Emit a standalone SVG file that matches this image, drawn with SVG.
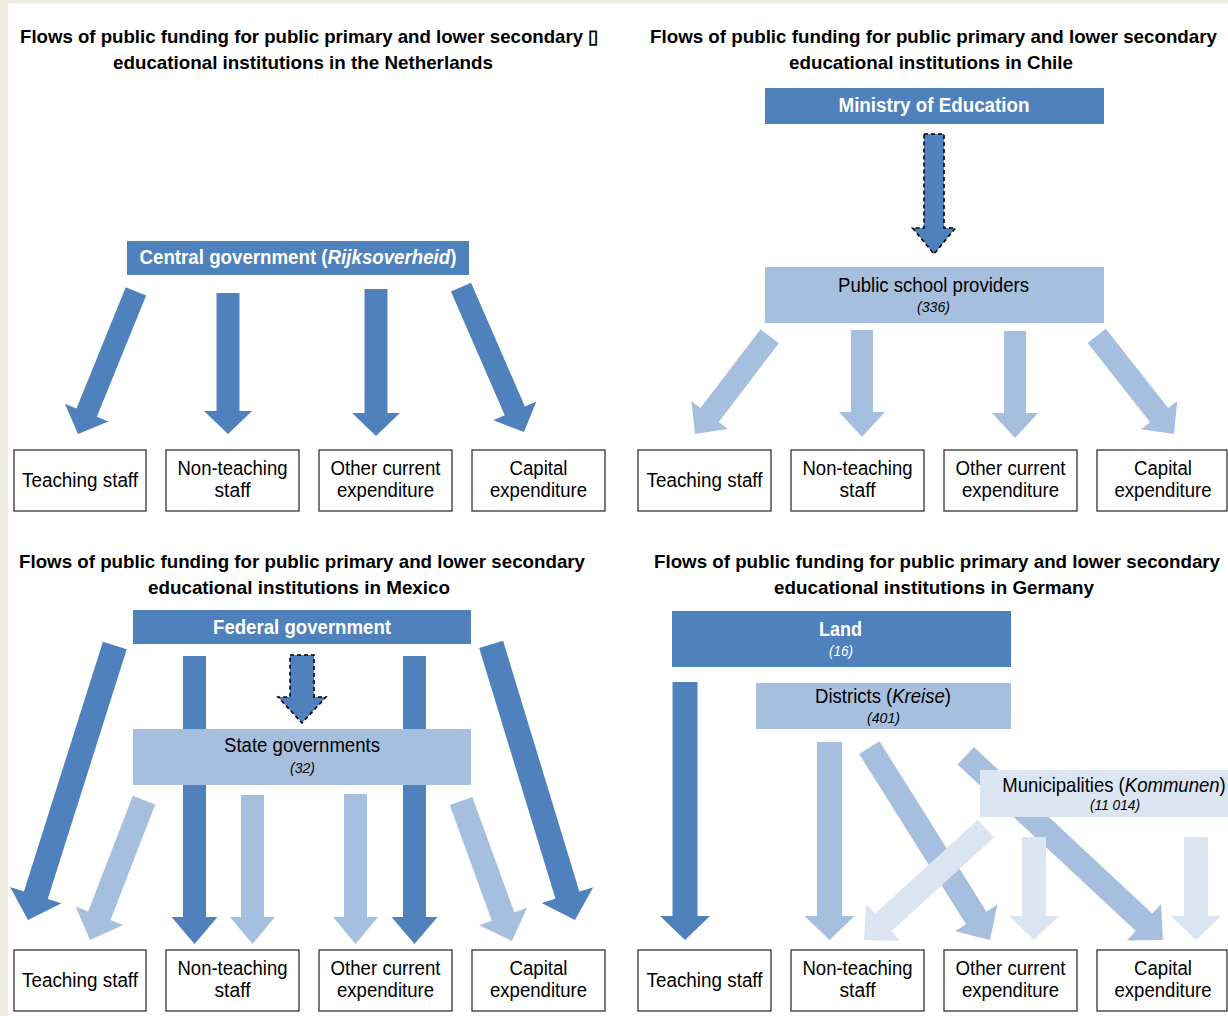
<svg xmlns="http://www.w3.org/2000/svg" width="1228" height="1016" viewBox="0 0 1228 1016">
<style>
text{font-family:"Liberation Sans Narrow","Arial Narrow","Liberation Sans",Arial,sans-serif;fill:#000;text-anchor:middle}
.ti{font-size:19px;font-weight:bold}
.hd{font-size:20px;font-weight:bold;fill:#fff}
.lb{font-size:20px}
.st{text-anchor:start}
.nm{font-size:14px;font-style:italic}
.nmw{font-size:14px;font-style:italic;fill:#fff}
.bx{fill:#fff;stroke:#222;stroke-width:1.2}
.dk{fill:#4F81BD}
.md{fill:#A7BFDE}
.lt{fill:#DBE5F1}
.dash{stroke:#000;stroke-width:1.6;stroke-dasharray:4 3}
</style>
<rect x="0" y="0" width="1228" height="1016" fill="#EEECE1"/>
<rect x="8" y="3" width="1220" height="1013" fill="#fff"/>

<g id="titles">
<text class="ti st" x="20" y="43" textLength="578" lengthAdjust="spacingAndGlyphs">Flows of public funding for public primary and lower secondary ▯</text>
<text class="ti" x="303" y="69" textLength="380" lengthAdjust="spacingAndGlyphs">educational institutions in the Netherlands</text>
<text class="ti" x="933.5" y="43" textLength="567" lengthAdjust="spacingAndGlyphs">Flows of public funding for public primary and lower secondary</text>
<text class="ti" x="931" y="69" textLength="284" lengthAdjust="spacingAndGlyphs">educational institutions in Chile</text>
<text class="ti" x="302" y="568" textLength="566" lengthAdjust="spacingAndGlyphs">Flows of public funding for public primary and lower secondary</text>
<text class="ti" x="299" y="594" textLength="302" lengthAdjust="spacingAndGlyphs">educational institutions in Mexico</text>
<text class="ti" x="937" y="568" textLength="566" lengthAdjust="spacingAndGlyphs">Flows of public funding for public primary and lower secondary</text>
<text class="ti" x="934" y="594" textLength="320" lengthAdjust="spacingAndGlyphs">educational institutions in Germany</text>
</g>

<g id="connectors">
<!-- Netherlands -->
<path class="dk" transform="translate(78,434) rotate(22.1)" d="M-11,-154L11,-154L11,-23L23.5,-23L0,0L-23.5,-23L-11,-23Z"/>
<path class="dk" transform="translate(228,434)" d="M-11.5,-141L11.5,-141L11.5,-23L24,-23L0,0L-24,-23L-11.5,-23Z"/>
<path class="dk" transform="translate(376,436)" d="M-11.5,-147L11.5,-147L11.5,-23L24,-23L0,0L-24,-23L-11.5,-23Z"/>
<path class="dk" transform="translate(524,432) rotate(-23.5)" d="M-11,-158L11,-158L11,-23L23.5,-23L0,0L-23.5,-23L-11,-23Z"/>
<!-- Chile -->
<path class="dk dash" transform="translate(934,254)" d="M-10,-120L10,-120L10,-26L21.5,-26L0,0L-21.5,-26L-10,-26Z"/>
<path class="md" transform="translate(695,434) rotate(37.4)" d="M-11.5,-123L11.5,-123L11.5,-24L23,-24L0,0L-23,-24L-11.5,-24Z"/>
<path class="md" transform="translate(862,437)" d="M-11,-107L11,-107L11,-25L23,-25L0,0L-23,-25L-11,-25Z"/>
<path class="md" transform="translate(1015,438)" d="M-11,-107L11,-107L11,-25L23,-25L0,0L-23,-25L-11,-25Z"/>
<path class="md" transform="translate(1174,434) rotate(-38.2)" d="M-11.5,-125L11.5,-125L11.5,-24L23,-24L0,0L-23,-24L-11.5,-24Z"/>
<!-- Mexico -->
<path class="dk" transform="translate(28,920) rotate(17.55)" d="M-12.5,-288L12.5,-288L12.5,-26L27,-26L0,0L-27,-26L-12.5,-26Z"/>
<path class="dk" transform="translate(575,920) rotate(-16.93)" d="M-12.5,-288L12.5,-288L12.5,-26L27,-26L0,0L-27,-26L-12.5,-26Z"/>
<path class="dk" transform="translate(194.5,944)" d="M-11.5,-288L11.5,-288L11.5,-27L23,-27L0,0L-23,-27L-11.5,-27Z"/>
<path class="dk" transform="translate(414.5,944)" d="M-11.5,-288L11.5,-288L11.5,-27L23,-27L0,0L-23,-27L-11.5,-27Z"/>
<path class="dk dash" transform="translate(302,723)" d="M-12,-68L12,-68L12,-26L24,-26L0,0L-24,-26L-12,-26Z"/>
<path class="md" transform="translate(90,940) rotate(21.1)" d="M-12,-150L12,-150L12,-26L25.5,-26L0,0L-25.5,-26L-12,-26Z"/>
<path class="md" transform="translate(252.5,944)" d="M-11.5,-149L11.5,-149L11.5,-27L22.5,-27L0,0L-22.5,-27L-11.5,-27Z"/>
<path class="md" transform="translate(355.5,944)" d="M-11.5,-150L11.5,-150L11.5,-27L22.5,-27L0,0L-22.5,-27L-11.5,-27Z"/>
<path class="md" transform="translate(512,941) rotate(-20)" d="M-12,-149L12,-149L12,-26L25.5,-26L0,0L-25.5,-26L-12,-26Z"/>
<!-- Germany -->
<path class="dk" transform="translate(685,940)" d="M-12.5,-258L12.5,-258L12.5,-24L25,-24L0,0L-25,-24L-12.5,-24Z"/>
<path class="md" transform="translate(829.5,940)" d="M-12.5,-198L12.5,-198L12.5,-24L25,-24L0,0L-25,-24L-12.5,-24Z"/>
<path class="md" transform="translate(990,940) rotate(-32.1)" d="M-12,-227L12,-227L12,-26L25,-26L0,0L-25,-26L-12,-26Z"/>
<path class="md" transform="translate(1163,940) rotate(-46.96)" d="M-12,-270L12,-270L12,-26L25,-26L0,0L-25,-26L-12,-26Z"/>
<path class="lt" transform="translate(864,940) rotate(47.6)" d="M-12,-165L12,-165L12,-26L25,-26L0,0L-25,-26L-12,-26Z"/>
<path class="lt" transform="translate(1034,940)" d="M-12,-103L12,-103L12,-24L25,-24L0,0L-25,-24L-12,-24Z"/>
<path class="lt" transform="translate(1196,940)" d="M-12,-103L12,-103L12,-24L25,-24L0,0L-25,-24L-12,-24Z"/>
</g>

<!-- Netherlands nodes -->
<g id="nl-central">
<rect class="dk" x="127" y="241" width="342" height="34"/>
<text class="hd" transform="translate(298,264) scale(0.935,1)" x="0" y="0">Central government (<tspan font-style="italic">Rijksoverheid</tspan>)</text>
</g>
<g id="nl-teaching"><rect class="bx" x="14" y="450" width="132" height="61"/><text class="lb" x="80" y="487" textLength="116" lengthAdjust="spacingAndGlyphs">Teaching staff</text></g>
<g id="nl-nonteaching"><rect class="bx" x="166" y="450" width="133" height="61"/><text class="lb" x="232.5" y="475" textLength="110" lengthAdjust="spacingAndGlyphs">Non-teaching</text><text class="lb" x="232.5" y="497" textLength="36" lengthAdjust="spacingAndGlyphs">staff</text></g>
<g id="nl-other"><rect class="bx" x="319" y="450" width="133" height="61"/><text class="lb" x="385.5" y="475" textLength="110" lengthAdjust="spacingAndGlyphs">Other current</text><text class="lb" x="385.5" y="497" textLength="97" lengthAdjust="spacingAndGlyphs">expenditure</text></g>
<g id="nl-capital"><rect class="bx" x="472" y="450" width="133" height="61"/><text class="lb" x="538.5" y="475" textLength="58" lengthAdjust="spacingAndGlyphs">Capital</text><text class="lb" x="538.5" y="497" textLength="97" lengthAdjust="spacingAndGlyphs">expenditure</text></g>

<!-- Chile nodes -->
<g id="cl-ministry">
<rect class="dk" x="765" y="88" width="339" height="36"/>
<text class="hd" x="934" y="112" textLength="191" lengthAdjust="spacingAndGlyphs">Ministry of Education</text>
</g>
<g id="cl-providers">
<rect class="md" x="765" y="267" width="339" height="56"/>
<text class="lb" x="933.5" y="292" textLength="191" lengthAdjust="spacingAndGlyphs">Public school providers</text>
<text class="nm" x="933.5" y="312" textLength="33" lengthAdjust="spacingAndGlyphs">(336)</text>
</g>
<g id="cl-teaching"><rect class="bx" x="638" y="450" width="133" height="61"/><text class="lb" x="704.5" y="487" textLength="116" lengthAdjust="spacingAndGlyphs">Teaching staff</text></g>
<g id="cl-nonteaching"><rect class="bx" x="791" y="450" width="133" height="61"/><text class="lb" x="857.5" y="475" textLength="110" lengthAdjust="spacingAndGlyphs">Non-teaching</text><text class="lb" x="857.5" y="497" textLength="36" lengthAdjust="spacingAndGlyphs">staff</text></g>
<g id="cl-other"><rect class="bx" x="944" y="450" width="133" height="61"/><text class="lb" x="1010.5" y="475" textLength="110" lengthAdjust="spacingAndGlyphs">Other current</text><text class="lb" x="1010.5" y="497" textLength="97" lengthAdjust="spacingAndGlyphs">expenditure</text></g>
<g id="cl-capital"><rect class="bx" x="1097" y="450" width="130" height="61"/><text class="lb" x="1163" y="475" textLength="58" lengthAdjust="spacingAndGlyphs">Capital</text><text class="lb" x="1163" y="497" textLength="97" lengthAdjust="spacingAndGlyphs">expenditure</text></g>

<!-- Mexico nodes -->
<g id="mx-federal">
<rect class="dk" x="133" y="610" width="338" height="34"/>
<text class="hd" x="302" y="634" textLength="178" lengthAdjust="spacingAndGlyphs">Federal government</text>
</g>
<g id="mx-states">
<rect class="md" x="133" y="729" width="338" height="56"/>
<text class="lb" x="302" y="752" textLength="156" lengthAdjust="spacingAndGlyphs">State governments</text>
<text class="nm" x="302.5" y="773" textLength="25" lengthAdjust="spacingAndGlyphs">(32)</text>
</g>
<g id="mx-teaching"><rect class="bx" x="14" y="950" width="132" height="61"/><text class="lb" x="80" y="987" textLength="116" lengthAdjust="spacingAndGlyphs">Teaching staff</text></g>
<g id="mx-nonteaching"><rect class="bx" x="166" y="950" width="133" height="61"/><text class="lb" x="232.5" y="975" textLength="110" lengthAdjust="spacingAndGlyphs">Non-teaching</text><text class="lb" x="232.5" y="997" textLength="36" lengthAdjust="spacingAndGlyphs">staff</text></g>
<g id="mx-other"><rect class="bx" x="319" y="950" width="133" height="61"/><text class="lb" x="385.5" y="975" textLength="110" lengthAdjust="spacingAndGlyphs">Other current</text><text class="lb" x="385.5" y="997" textLength="97" lengthAdjust="spacingAndGlyphs">expenditure</text></g>
<g id="mx-capital"><rect class="bx" x="472" y="950" width="133" height="61"/><text class="lb" x="538.5" y="975" textLength="58" lengthAdjust="spacingAndGlyphs">Capital</text><text class="lb" x="538.5" y="997" textLength="97" lengthAdjust="spacingAndGlyphs">expenditure</text></g>

<!-- Germany nodes -->
<g id="de-land">
<rect class="dk" x="672" y="611" width="339" height="56"/>
<text class="hd" x="840.5" y="636" textLength="43" lengthAdjust="spacingAndGlyphs">Land</text>
<text class="nmw" x="841" y="656" textLength="24" lengthAdjust="spacingAndGlyphs">(16)</text>
</g>
<g id="de-districts">
<rect class="md" x="756" y="683" width="255" height="46"/>
<text class="lb" transform="translate(883,703) scale(0.927,1)" x="0" y="0">Districts (<tspan font-style="italic">Kreise</tspan>)</text>
<text class="nm" x="883.5" y="723" textLength="33" lengthAdjust="spacingAndGlyphs">(401)</text>
</g>
<g id="de-municipalities">
<rect class="lt" x="980" y="770" width="248" height="47"/>
<text class="lb" transform="translate(1114,792) scale(0.9275,1)" x="0" y="0">Municipalities (<tspan font-style="italic">Kommunen</tspan>)</text>
<text class="nm" x="1115" y="810" textLength="50" lengthAdjust="spacingAndGlyphs">(11 014)</text>
</g>
<g id="de-teaching"><rect class="bx" x="638" y="950" width="133" height="61"/><text class="lb" x="704.5" y="987" textLength="116" lengthAdjust="spacingAndGlyphs">Teaching staff</text></g>
<g id="de-nonteaching"><rect class="bx" x="791" y="950" width="133" height="61"/><text class="lb" x="857.5" y="975" textLength="110" lengthAdjust="spacingAndGlyphs">Non-teaching</text><text class="lb" x="857.5" y="997" textLength="36" lengthAdjust="spacingAndGlyphs">staff</text></g>
<g id="de-other"><rect class="bx" x="944" y="950" width="133" height="61"/><text class="lb" x="1010.5" y="975" textLength="110" lengthAdjust="spacingAndGlyphs">Other current</text><text class="lb" x="1010.5" y="997" textLength="97" lengthAdjust="spacingAndGlyphs">expenditure</text></g>
<g id="de-capital"><rect class="bx" x="1097" y="950" width="130" height="61"/><text class="lb" x="1163" y="975" textLength="58" lengthAdjust="spacingAndGlyphs">Capital</text><text class="lb" x="1163" y="997" textLength="97" lengthAdjust="spacingAndGlyphs">expenditure</text></g>
</svg>
